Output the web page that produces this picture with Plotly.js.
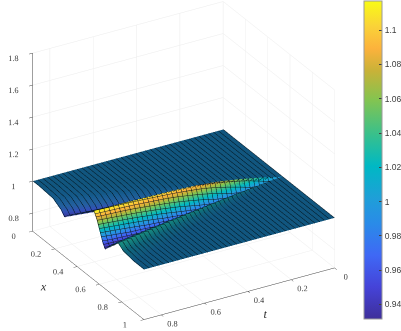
<!DOCTYPE html>
<html>
<head>
<meta charset="utf-8">
<script src="https://cdn.plot.ly/plotly-3.0.1.min.js"></script>
<style>html,body{margin:0;padding:0;background:#fff}</style>
</head>
<body>
<div id="chart" style="width:401px;height:331px"></div>
<script>
// values; each row is one t, columns follow the wave fronts
const tRows = [0, 0.02, 0.1, 0.2, 0.3, 0.4, 0.5, 0.6, 0.7, 0.8, 0.88];

const xLeft = [
  [0, 0.526, 0.527, 0.528, 0.529, 0.53, 0.531],
  [0, 0.519, 0.522, 0.523, 0.524, 0.525, 0.53],
  [0, 0.476, 0.49, 0.4985, 0.502, 0.5055, 0.532],
  [0, 0.422, 0.451, 0.467, 0.474, 0.481, 0.534],
  [0, 0.368, 0.411, 0.4355, 0.446, 0.4565, 0.536],
  [0, 0.314, 0.371, 0.404, 0.418, 0.432, 0.538],
  [0, 0.26, 0.3315, 0.3725, 0.39, 0.4075, 0.54],
  [0, 0.206, 0.292, 0.341, 0.362, 0.383, 0.542],
  [0, 0.152, 0.252, 0.3095, 0.334, 0.3585, 0.544],
  [0, 0.098, 0.212, 0.278, 0.306, 0.334, 0.546],
  [0, 0.055, 0.181, 0.253, 0.284, 0.315, 0.548]
];
const zLeft = [
  [1, 1, 1, 1, 1, 1, 1],
  [1, 1, 1, 0.9995, 0.999, 0.9995, 1.002],
  [1, 1, 0.999, 0.995, 0.992, 1.0, 1.03],
  [1, 1, 0.998, 0.99, 0.983, 0.995, 1.058],
  [1, 1, 0.997, 0.985, 0.975, 0.992, 1.08],
  [1, 1, 0.996, 0.98, 0.966, 0.988, 1.095],
  [1, 1, 0.995, 0.975, 0.958, 0.982, 1.103],
  [1, 1, 0.994, 0.97, 0.95, 0.974, 1.108],
  [1, 1, 0.993, 0.965, 0.942, 0.968, 1.112],
  [1, 1, 0.992, 0.962, 0.936, 0.963, 1.115],
  [1, 1, 0.992, 0.96, 0.932, 0.96, 1.116]
];
const xFace = [
  [0.531, 0.5312, 0.5314, 0.5316, 0.532],
  [0.53, 0.5308, 0.5315, 0.5324, 0.533],
  [0.532, 0.5349, 0.5378, 0.5412, 0.5435],
  [0.534, 0.5398, 0.5455, 0.5524, 0.557],
  [0.536, 0.5446, 0.5533, 0.5636, 0.5705],
  [0.538, 0.5495, 0.561, 0.5748, 0.584],
  [0.54, 0.5544, 0.5688, 0.586, 0.5975],
  [0.542, 0.5593, 0.5765, 0.5972, 0.611],
  [0.544, 0.5641, 0.5843, 0.6084, 0.6245],
  [0.546, 0.569, 0.592, 0.6196, 0.638],
  [0.548, 0.5733, 0.5985, 0.6288, 0.649]
];
const zFace = [
  [1, 1, 1, 1, 1],
  [1.002, 1.0014, 1.0005, 0.9995, 0.999],
  [1.03, 1.023, 1.012, 0.999, 0.994],
  [1.058, 1.044, 1.023, 0.998, 0.988],
  [1.08, 1.061, 1.032, 0.997, 0.983],
  [1.095, 1.071, 1.036, 0.995, 0.977],
  [1.103, 1.077, 1.0375, 0.992, 0.972],
  [1.108, 1.079, 1.0365, 0.986, 0.965],
  [1.112, 1.081, 1.0335, 0.978, 0.955],
  [1.115, 1.08, 1.0285, 0.968, 0.942],
  [1.116, 1.079, 1.024, 0.959, 0.932]
];
const xRight = [
  [0.532, 0.533, 0.534, 0.535, 0.536, 1],
  [0.533, 0.534, 0.5354, 0.537, 0.5386, 1],
  [0.5435, 0.55, 0.557, 0.562, 0.573, 1],
  [0.557, 0.5705, 0.584, 0.594, 0.616, 1],
  [0.5705, 0.591, 0.611, 0.626, 0.659, 1],
  [0.584, 0.611, 0.638, 0.658, 0.702, 1],
  [0.5975, 0.631, 0.665, 0.69, 0.745, 1],
  [0.611, 0.6515, 0.692, 0.722, 0.788, 1],
  [0.6245, 0.672, 0.719, 0.754, 0.831, 1],
  [0.638, 0.692, 0.746, 0.786, 0.874, 1],
  [0.649, 0.7085, 0.768, 0.812, 0.909, 1]
];
const zRight = [
  [1, 1, 1, 1, 1, 1],
  [0.999, 0.9996, 1, 1, 1, 1],
  [0.994, 1.002, 1.006, 1.002, 1, 1],
  [0.988, 1.003, 1.012, 1.004, 1, 1],
  [0.983, 1.004, 1.018, 1.005, 1, 1],
  [0.977, 1.003, 1.02, 1.006, 1, 1],
  [0.972, 1.003, 1.023, 1.007, 1, 1],
  [0.965, 1.002, 1.026, 1.008, 1, 1],
  [0.955, 1.001, 1.029, 1.009, 1, 1],
  [0.942, 0.998, 1.032, 1.01, 1, 1],
  [0.932, 0.994, 1.035, 1.011, 1, 1]
];

const cbVals = [0.94, 0.96, 0.98, 1, 1.02, 1.04, 1.06, 1.08, 1.1];
const cbText = ["0.94", "0.96", "0.98", "1", "1.02", "1.04", "1.06", "1.08", "1.1"];
const xTicks = [0, 0.2, 0.4, 0.6, 0.8, 1];
const xTickText = ["0", "0.2", "0.4", "0.6", "0.8", "1"];
const tTicks = [0, 0.2, 0.4, 0.6, 0.8];
const tTickText = ["0", "0.2", "0.4", "0.6", "0.8"];
const zTicks = [0.8, 1, 1.2, 1.4, 1.6, 1.8];
const zTickText = ["0.8", "1", "1.2", "1.4", "1.6", "1.8"];

const parula = [
  [0, "#3e2f9a"], [0.1, "#4543d8"], [0.2, "#3f68f5"], [0.3, "#2a8be8"],
  [0.38, "#1f9fd8"], [0.48, "#00b8c4"], [0.58, "#38c08c"], [0.69, "#84c450"],
  [0.78, "#c8b238"], [0.85, "#fcb23c"], [0.92, "#fad238"], [1, "#f9fb15"]
];
// same scale seen through the dense mesh lines of the flat parts
const meshed = [
  [0, "#37329a"], [0.1, "#3350b8"], [0.2, "#24609f"], [0.3, "#175c90"],
  [0.369, "#11567f"], [0.45, "#10707a"], [0.55, "#1a9080"], [1, "#5a5a14"]
];

const cMin = 0.9315, cMax = 1.117;
const flatLight = {ambient: 1, diffuse: 0, specular: 0, roughness: 1, fresnel: 0};
const tLines = {show: true, start: 0, end: 0.88, size: 0.0225, color: "#03141d", width: 1, highlight: false};

function piece(xs, zs, scale, xLines, bar) {
  return {
    type: "surface",
    x: xs,
    y: xs.map((row, i) => row.map(() => tRows[i])),
    z: zs,
    cmin: cMin,
    cmax: cMax,
    colorscale: scale,
    showscale: bar,
    lighting: flatLight,
    hoverinfo: "skip",
    contours: {
      x: xLines ? {show: true, start: 0.5, end: 0.66, size: 0.0095, color: "#1a1a1a", width: 1, highlight: false} : {show: false, highlight: false},
      y: tLines,
      z: {show: false, highlight: false}
    },
    colorbar: {
      xref: "container", x: 364 / 401, xanchor: "left", xpad: 0,
      yref: "container", y: 1 - 160 / 331, yanchor: "middle", ypad: 0,
      lenmode: "pixels", len: 318,
      thicknessmode: "pixels", thickness: 18,
      tickmode: "array", tickvals: cbVals, ticktext: cbText,
      ticks: "inside", ticklen: 3, tickcolor: "#404040",
      tickfont: {family: "Liberation Sans", size: 8.5, color: "#404040"},
      outlinecolor: "#9a9a9a", outlinewidth: 1, bordercolor: "rgba(0,0,0,0)"
    }
  };
}

function axis(label, range, vals, text) {
  return {
    title: {text: label, font: {family: "Liberation Serif", size: 12, color: "#333333", style: "italic"}},
    range: range,
    tickmode: "array", tickvals: vals, ticktext: text, tickangle: 0,
    tickfont: {family: "Liberation Serif", size: 10, color: "#404040"},
    ticks: "outside", ticklen: 4, tickcolor: "#404040",
    showline: true, linecolor: "#404040", linewidth: 1,
    showgrid: true, gridcolor: "#ebebeb", gridwidth: 1,
    showbackground: false, showspikes: false, zeroline: false
  };
}

const layout = {
  width: 401,
  height: 331,
  margin: {l: 0, r: 0, t: 0, b: 0},
  paper_bgcolor: "#fff",
  scene: {
    domain: {x: [0, 1], y: [0, 1]},
    aspectmode: "manual",
    aspectratio: {x: 1.334, y: 1.334, z: 1.214},
    camera: {
      projection: {type: "orthographic"},
      eye: {x: 1.525, y: -0.902, z: 0.894},
      center: {x: -0.005, y: -0.008, z: -0.034},
      up: {x: 0, y: 0, z: 1}
    },
    xaxis: axis("x", [0, 1], xTicks, xTickText),
    yaxis: axis("t", [0.88, 0], tTicks, tTickText),
    zaxis: axis("λ", [0.6875, 1.8], zTicks, zTickText)
  }
};

Plotly.newPlot("chart", [
  piece(xLeft, zLeft, meshed, false, false),
  piece(xFace, zFace, parula, true, true),
  piece(xRight, zRight, meshed, false, false)
], layout, {displayModeBar: false});
</script>
</body>
</html>
